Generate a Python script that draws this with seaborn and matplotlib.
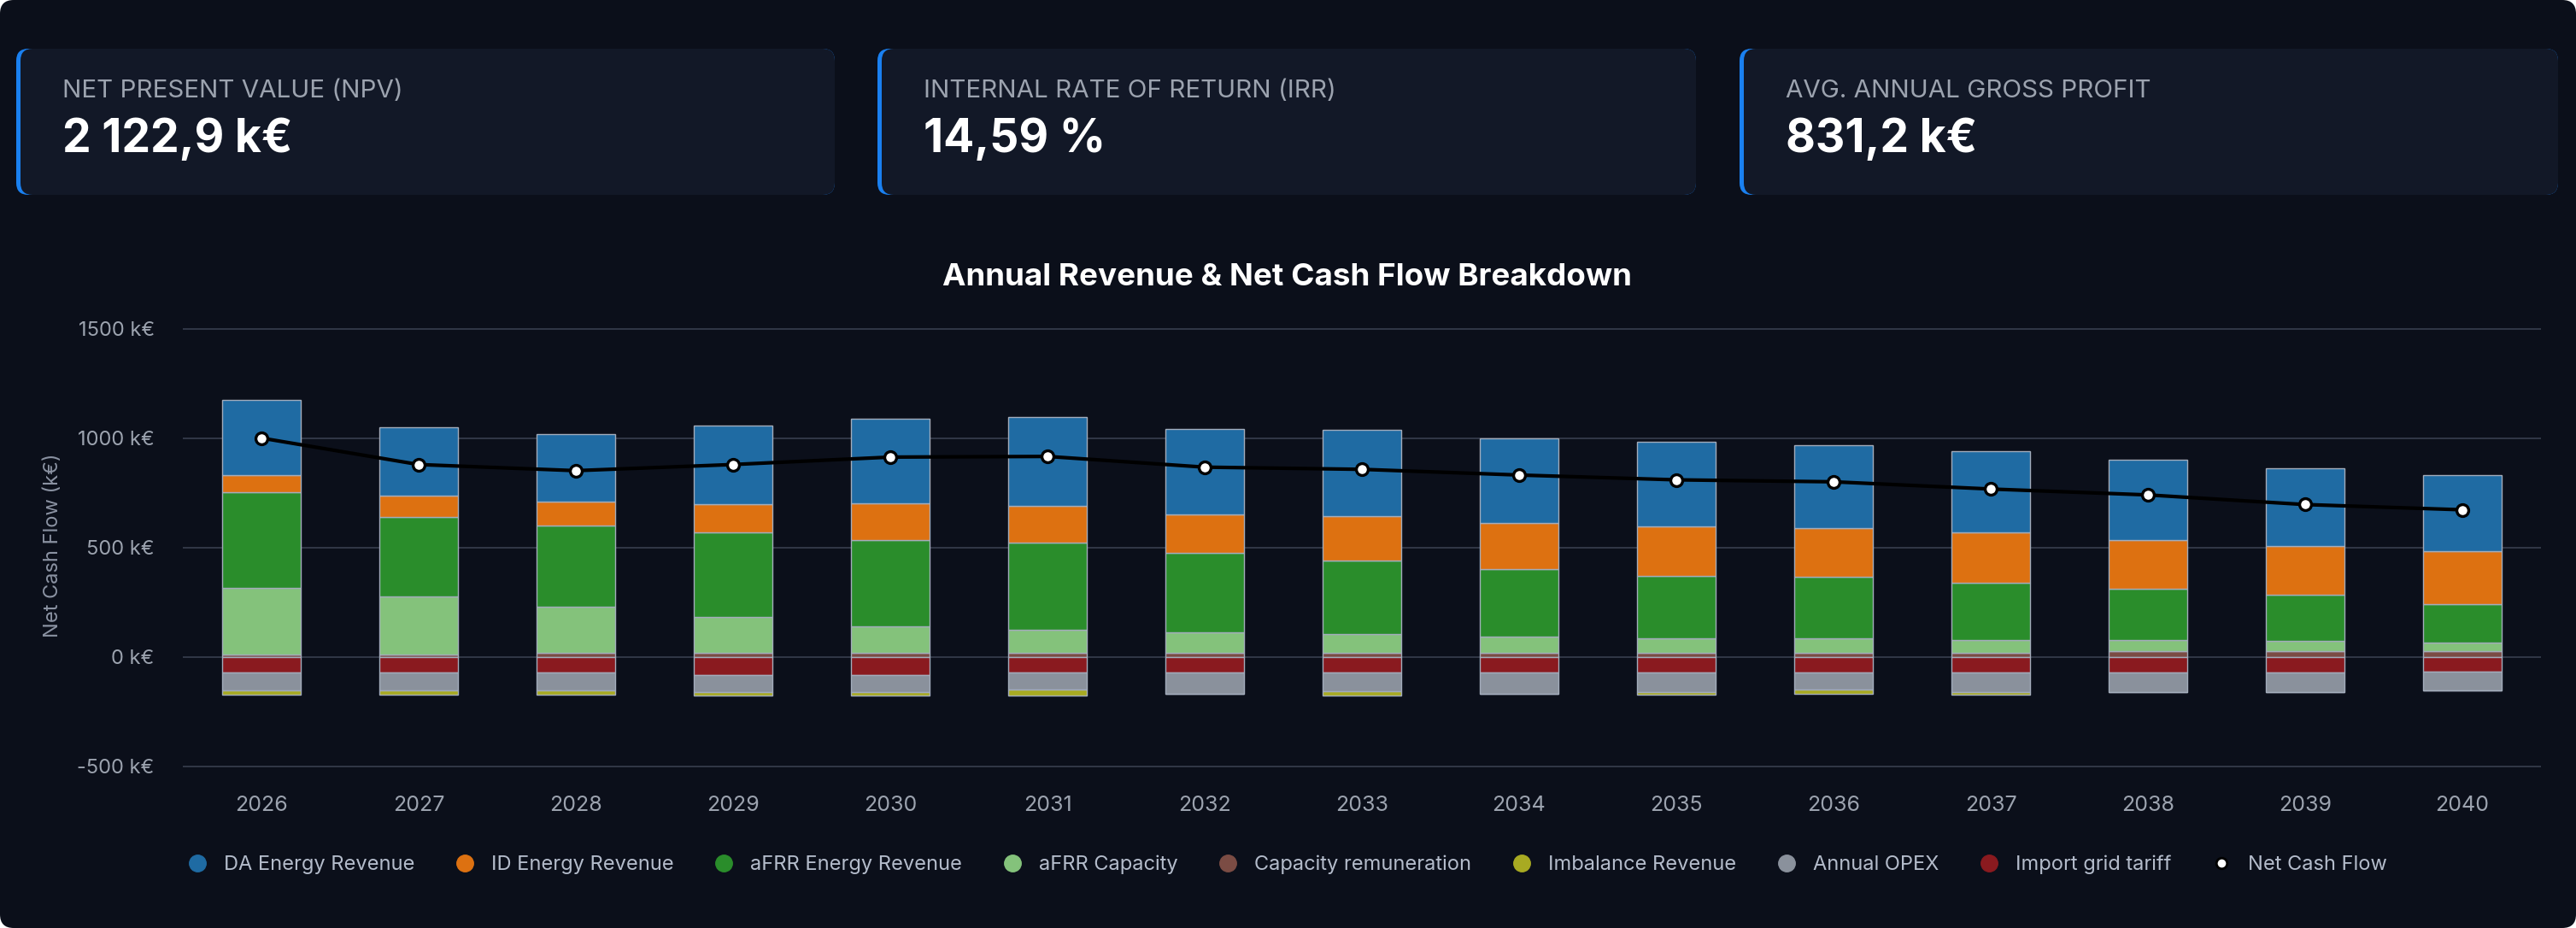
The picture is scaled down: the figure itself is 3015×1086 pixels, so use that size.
import matplotlib
matplotlib.use('Agg')

import matplotlib.pyplot as plt
import numpy as np
import seaborn as sns
from matplotlib.lines import Line2D
from matplotlib.patches import FancyBboxPatch

# ---- data (k€) ----
years = [2026, 2027, 2028, 2029, 2030, 2031, 2032, 2033, 2034, 2035, 2036, 2037, 2038, 2039, 2040]
da_energy = [341, 315, 310, 362, 387, 409, 394, 395, 387, 385, 378, 371, 365, 356, 348]
id_energy = [78, 94, 108, 130, 168, 169, 175, 204, 212, 228, 223, 228, 225, 220, 242]
afrr_energy = [440, 367, 374, 384, 397, 397, 362, 334, 306, 283, 281, 264, 234, 214, 177]
afrr_capacity = [303, 263, 209, 164, 118, 104, 93, 85, 74, 67, 67, 57, 50, 45, 38]
capacity_remuneration = [12, 12, 20, 20, 20, 20, 20, 20, 20, 20, 20, 20, 27, 27, 27]
imbalance = [-17, -17, -17, -18, -18, -25, 0, -18, 0, -13, -18, -12, 0, 0, 0]
annual_opex = [-81, -81, -81, -79, -79, -78, -96, -85, -96, -87, -78, -87, -87, -87, -88]
import_tariff = [-73, -73, -73, -81, -81, -73, -73, -73, -73, -73, -73, -73, -73, -73, -66]
net_cash_flow = [1001, 880, 852, 880, 914, 917, 868, 858, 832, 810, 801, 768, 741, 697, 673]

kpi_labels = ['NET PRESENT VALUE (NPV)', 'INTERNAL RATE OF RETURN (IRR)', 'AVG. ANNUAL GROSS PROFIT']
kpi_values = ['2 122,9 k€', '14,59 %', '831,2 k€']
y_ticks = [-500, 0, 500, 1000, 1500]

BG = '#0b0f1a'
CARD = '#121827'
ACCENT = '#1a80f0'
MUTED = '#9ca3af'
EDGE = '#a3acbb'

colors = {
    'DA Energy Revenue': '#1f6ba3',
    'ID Energy Revenue': '#dd7111',
    'aFRR Energy Revenue': '#2a8d2b',
    'aFRR Capacity': '#84c27b',
    'Capacity remuneration': '#7b4c44',
    'Imbalance Revenue': '#a8aa22',
    'Annual OPEX': '#8a919c',
    'Import grid tariff': '#8a1a1f',
}

sns.set_theme(style='dark')
plt.rcParams['font.family'] = ['Inter', 'DejaVu Sans']

W, H = 3015, 1086
fig = plt.figure(figsize=(W / 100, H / 100), dpi=100, facecolor='white')

# background panel and KPI cards, in pixel coordinates
bg = fig.add_axes([0, 0, 1, 1])
bg.set_xlim(0, W)
bg.set_ylim(H, 0)
bg.axis('off')
bg.add_patch(FancyBboxPatch((0, 0), W, H, boxstyle='round,pad=0,rounding_size=16',
                            fc=BG, ec='none'))

card_left = [19, 1027, 2036]
card_w, card_top, card_h = 958, 57, 171
for x0, lab, val in zip(card_left, kpi_labels, kpi_values):
    bg.add_patch(FancyBboxPatch((x0, card_top), card_w, card_h,
                                boxstyle='round,pad=0,rounding_size=14', fc=ACCENT, ec='none'))
    bg.add_patch(FancyBboxPatch((x0 + 5, card_top), card_w - 5, card_h,
                                boxstyle='round,pad=0,rounding_size=14', fc=CARD, ec='none'))
    bg.text(x0 + 54, 107, lab, color=MUTED, fontsize=21.3, va='center', ha='left')
    bg.text(x0 + 54, 163, val, color='white', fontsize=38.5, fontweight='bold',
            va='center', ha='left')

fig.text(1506 / W, 1 - 325 / H, 'Annual Revenue & Net Cash Flow Breakdown',
         color='white', fontsize=26.5, fontweight='bold', ha='center', va='center')

# ---- chart ----
ax = fig.add_axes([214 / W, 1 - 907 / H, 2760 / W, (907 - 369.6) / H])
ax.set_facecolor('none')
x = np.arange(len(years))

positives = [
    ('Capacity remuneration', capacity_remuneration),
    ('aFRR Capacity', afrr_capacity),
    ('aFRR Energy Revenue', afrr_energy),
    ('ID Energy Revenue', id_energy),
    ('DA Energy Revenue', da_energy),
]
negatives = [
    ('Import grid tariff', import_tariff),
    ('Annual OPEX', annual_opex),
    ('Imbalance Revenue', imbalance),
]

bottom = np.zeros(len(years))
for name, vals in positives:
    ax.bar(x, vals, width=0.5, bottom=bottom, color=colors[name], edgecolor=EDGE,
           linewidth=1.0, zorder=2)
    bottom += np.array(vals)

bottom = np.zeros(len(years))
for name, vals in negatives:
    ax.bar(x, vals, width=0.5, bottom=bottom, color=colors[name], edgecolor=EDGE,
           linewidth=1.0, zorder=2)
    bottom += np.array(vals)

sns.lineplot(x=x, y=net_cash_flow, ax=ax, color='black', linewidth=3.0, marker='o',
             markersize=10, markerfacecolor='white', markeredgecolor='black',
             markeredgewidth=2.4, zorder=5)

ax.set_xlim(-0.5, 14.5)
ax.set_ylim(-540, 1560)
ax.set_yticks(y_ticks)
ax.set_yticklabels([f'{v} k€' for v in y_ticks])
ax.set_xticks(x)
ax.set_xticklabels([str(y) for y in years])
ax.grid(axis='y', color='#343b4a', linewidth=1.3)
ax.grid(axis='x', visible=False)
ax.set_axisbelow(True)
for s in ax.spines.values():
    s.set_visible(False)
ax.tick_params(axis='y', length=0, pad=24, labelsize=17, labelcolor=MUTED)
ax.tick_params(axis='x', length=0, pad=17, labelsize=18, labelcolor=MUTED)
ax.set_ylabel('Net Cash Flow (k€)', color='#8b93a3', fontsize=17)
ax.yaxis.set_label_coords(-0.051, 0.5)

# legend
legend_names = ['DA Energy Revenue', 'ID Energy Revenue', 'aFRR Energy Revenue', 'aFRR Capacity',
                'Capacity remuneration', 'Imbalance Revenue', 'Annual OPEX', 'Import grid tariff']
handles = [Line2D([], [], ls='none', marker='o', markersize=14, markerfacecolor=colors[n],
                  markeredgecolor=colors[n]) for n in legend_names]
handles.append(Line2D([], [], ls='none', marker='o', markersize=9, markerfacecolor='white',
                      markeredgecolor='black', markeredgewidth=2))
fig.legend(handles, legend_names + ['Net Cash Flow'], loc='center',
           bbox_to_anchor=(0.5, 1 - 1012 / H), ncol=9, frameon=False, fontsize=17,
           labelcolor='#b4bccb', handlelength=0.8, handletextpad=0.9, columnspacing=2.1)

fig.savefig('out.png', dpi=100, facecolor='white')
plt.close(fig)
